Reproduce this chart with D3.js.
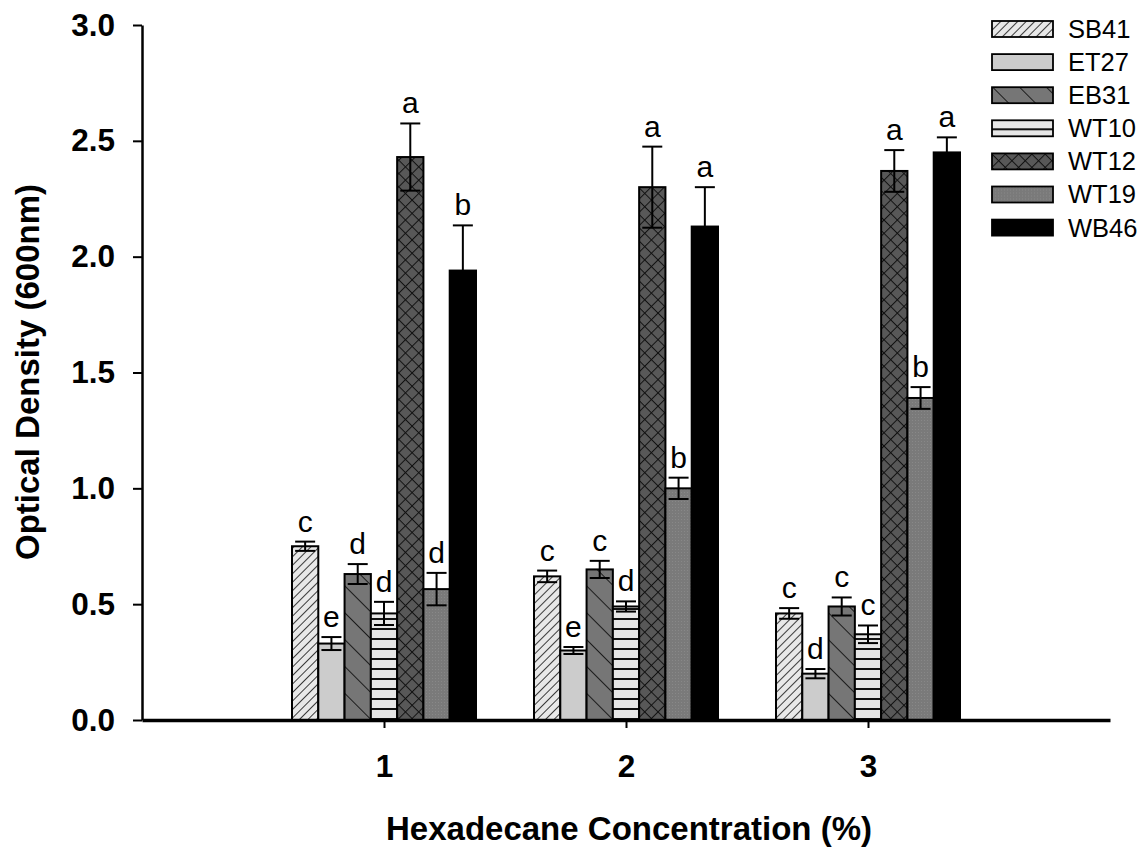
<!DOCTYPE html>
<html>
<head>
<meta charset="utf-8">
<script src="https://cdn.jsdelivr.net/npm/d3@7"></script>
<style>
  body { margin: 0; background: #fff; }
  svg { font-family: "Liberation Sans", Arial, sans-serif; }
</style>
</head>
<body>
<div id="chart"></div>
<script>
// data
const concentrations = [1, 2, 3];
const strains = ["SB41", "ET27", "EB31", "WT10", "WT12", "WT19", "WB46"];

const sb41 = [0.75, 0.62, 0.46];
const et27 = [0.33, 0.30, 0.20];
const eb31 = [0.63, 0.65, 0.49];
const wt10 = [0.46, 0.49, 0.37];
const wt12 = [2.43, 2.30, 2.37];
const wt19 = [0.565, 1.00, 1.39];
const wb46 = [1.94, 2.13, 2.45];

const sb41Err = [0.02, 0.025, 0.023];
const et27Err = [0.028, 0.015, 0.02];
const eb31Err = [0.043, 0.037, 0.039];
const wt10Err = [0.05, 0.022, 0.038];
const wt12Err = [0.145, 0.175, 0.09];
const wt19Err = [0.07, 0.046, 0.047];
const wb46Err = [0.195, 0.17, 0.065];

const sb41Letters = ["c", "c", "c"];
const et27Letters = ["e", "e", "d"];
const eb31Letters = ["d", "c", "c"];
const wt10Letters = ["d", "d", "c"];
const wt12Letters = ["a", "a", "a"];
const wt19Letters = ["d", "b", "b"];
const wb46Letters = ["b", "a", "a"];

const yTicks = [0, 0.5, 1.0, 1.5, 2.0, 2.5, 3.0];

const means = [sb41, et27, eb31, wt10, wt12, wt19, wb46];
const errs = [sb41Err, et27Err, eb31Err, wt10Err, wt12Err, wt19Err, wb46Err];
const letters = [sb41Letters, et27Letters, eb31Letters, wt10Letters, wt12Letters, wt19Letters, wb46Letters];

// flatten into rows
let rows = [];
strains.forEach((s, i) => {
  concentrations.forEach((c, j) => {
    rows.push({ strain: s, conc: c, mean: means[i][j], err: errs[i][j], letter: letters[i][j] });
  });
});

const W = 1145, H = 847;
const svg = d3.select("#chart").append("svg").attr("width", W).attr("height", H);

// ---- patterns ----
const defs = svg.append("defs");

function linePattern(id, bg, size, angle, stroke, sw) {
  const p = defs.append("pattern")
    .attr("id", id)
    .attr("patternUnits", "userSpaceOnUse")
    .attr("width", size).attr("height", size)
    .attr("patternTransform", "rotate(" + angle + ")");
  p.append("rect").attr("width", size).attr("height", size).attr("fill", bg);
  p.append("line").attr("x1", 0).attr("y1", 0).attr("x2", 0).attr("y2", size)
    .attr("stroke", stroke).attr("stroke-width", sw);
  return p;
}

linePattern("pSB41", "#e8e8e8", 6, 45, "#1a1a1a", 1.7);
linePattern("pEB31", "#767676", 19, -45, "#111", 1.8);

// horizontal lines
const pw10 = defs.append("pattern").attr("id", "pWT10")
  .attr("patternUnits", "userSpaceOnUse").attr("width", 10).attr("height", 10);
pw10.append("rect").attr("width", 10).attr("height", 10).attr("fill", "#e6e6e6");
pw10.append("line").attr("x1", 0).attr("x2", 10).attr("y1", 9).attr("y2", 9)
  .attr("stroke", "#111").attr("stroke-width", 2);

// cross hatch
const pw12 = linePattern("pWT12", "#585858", 9.4, 45, "#111", 2);
pw12.append("line").attr("x1", 0).attr("x2", 9.4).attr("y1", 0).attr("y2", 0)
  .attr("stroke", "#111").attr("stroke-width", 2);

// fine stipple
const pw19 = defs.append("pattern").attr("id", "pWT19")
  .attr("patternUnits", "userSpaceOnUse").attr("width", 3).attr("height", 3);
pw19.append("rect").attr("width", 3).attr("height", 3).attr("fill", "#7a7a7a");
pw19.append("rect").attr("width", 1).attr("height", 1).attr("fill", "#888");

const fills = {
  SB41: "url(#pSB41)",
  ET27: "#cccccc",
  EB31: "url(#pEB31)",
  WT10: "url(#pWT10)",
  WT12: "url(#pWT12)",
  WT19: "url(#pWT19)",
  WB46: "#000"
};

// ---- scales ----
const x = d3.scaleLinear().domain([0, 4]).range([142, 1110]);
const xSub = d3.scaleBand().domain(strains).range([-92, 92]).padding(0);
const y = d3.scaleLinear().domain([0, 3]).range([720, 25]);

// ---- bars ----
const bars = svg.append("g").attr("class", "bars");
bars.selectAll("rect")
  .data(rows)
  .join("rect")
  .attr("x", d => x(d.conc) + xSub(d.strain))
  .attr("y", d => y(d.mean))
  .attr("width", xSub.bandwidth())
  .attr("height", d => y(0) - y(d.mean))
  .attr("fill", d => fills[d.strain])
  .attr("stroke", "#000")
  .attr("stroke-width", 2);

// error bars
const eb = svg.append("g").attr("class", "errorbars")
  .attr("stroke", "#000").attr("stroke-width", 2);
const cx = d => x(d.conc) + xSub(d.strain) + xSub.bandwidth() / 2;
eb.selectAll(".stem").data(rows).join("line").attr("class", "stem")
  .attr("x1", cx).attr("x2", cx)
  .attr("y1", d => y(d.mean - d.err)).attr("y2", d => y(d.mean + d.err));
eb.selectAll(".capTop").data(rows).join("line").attr("class", "capTop")
  .attr("x1", d => cx(d) - 10).attr("x2", d => cx(d) + 10)
  .attr("y1", d => y(d.mean + d.err)).attr("y2", d => y(d.mean + d.err));
eb.selectAll(".capBot").data(rows).join("line").attr("class", "capBot")
  .attr("x1", d => cx(d) - 10).attr("x2", d => cx(d) + 10)
  .attr("y1", d => y(d.mean - d.err)).attr("y2", d => y(d.mean - d.err));

// significance letters
svg.append("g").selectAll("text").data(rows).join("text")
  .attr("x", cx)
  .attr("y", d => y(d.mean + d.err) - 10)
  .attr("text-anchor", "middle")
  .attr("font-size", "30px")
  .text(d => d.letter);

// ---- axes ----
const yAxis = svg.append("g")
  .attr("transform", "translate(142,0)")
  .call(d3.axisLeft(y).tickValues(yTicks).tickFormat(d3.format(".1f"))
    .tickSize(9).tickSizeOuter(0).tickPadding(18));
yAxis.select(".domain").attr("stroke-width", 2.5);
yAxis.selectAll(".tick line").attr("stroke-width", 2);
yAxis.selectAll("text").attr("font-size", "31.5px").attr("font-weight", "bold")
  .attr("font-family", "Liberation Sans, Arial, sans-serif").attr("fill", "#000");

const xAxis = svg.append("g")
  .attr("transform", "translate(0,720)")
  .call(d3.axisBottom(x).tickValues(concentrations).tickFormat(d3.format("d"))
    .tickSize(8).tickSizeOuter(0).tickPadding(27));
xAxis.select(".domain").attr("stroke-width", 3.5);
xAxis.selectAll(".tick line").attr("stroke-width", 2);
xAxis.selectAll("text").attr("font-size", "31.5px").attr("font-weight", "bold")
  .attr("font-family", "Liberation Sans, Arial, sans-serif").attr("fill", "#000");

// axis titles
svg.append("text")
  .attr("transform", "translate(39,372) rotate(-90)")
  .attr("text-anchor", "middle")
  .attr("font-size", "33px").attr("font-weight", "bold")
  .text("Optical Density (600nm)");

svg.append("text")
  .attr("x", 629).attr("y", 840)
  .attr("text-anchor", "middle")
  .attr("font-size", "33px").attr("font-weight", "bold")
  .text("Hexadecane Concentration (%)");

// ---- legend ----
const legend = svg.append("g").attr("class", "legend")
  .attr("transform", "translate(992,21)");
const lg = legend.selectAll("g").data(strains).join("g")
  .attr("transform", (d, i) => "translate(0," + i * 33.1 + ")");
lg.append("rect")
  .attr("width", 61).attr("height", 16)
  .attr("fill", d => fills[d])
  .attr("stroke", "#000").attr("stroke-width", 1.8);
lg.append("text")
  .attr("x", 76).attr("y", 8).attr("dy", "0.35em")
  .attr("font-size", "25.5px")
  .text(d => d);
</script>
</body>
</html>
